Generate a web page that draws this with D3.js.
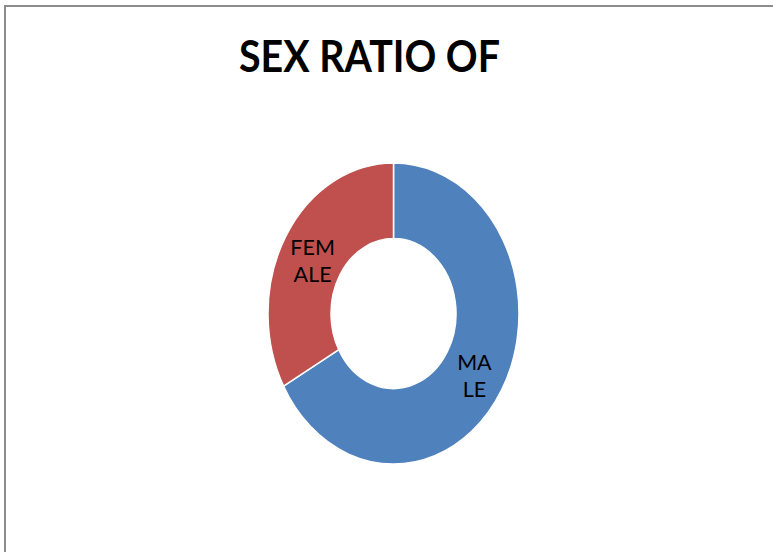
<!DOCTYPE html>
<html>
<head>
<meta charset="utf-8">
<script src="https://cdn.jsdelivr.net/npm/d3@7.9.0/dist/d3.min.js"></script>
<style>
  body { margin: 0; background: #fff; }
</style>
</head>
<body>
<div id="chart"></div>
<script>
// data
const categories = ['MALE', 'FEMALE'];
const values = [67, 33];
const labelLines = [['MA', 'LE'], ['FEM', 'ALE']];
const colors = ['#4F81BD', '#C0504D'];
const title = 'SEX RATIO OF';

const width = 773;
const height = 552;

const svg = d3.select('#chart')
    .append('svg')
    .attr('width', width)
    .attr('height', height);

// chart area border
svg.append('rect')
    .attr('x', 5)
    .attr('y', 6)
    .attr('width', width + 10)
    .attr('height', height + 10)
    .attr('fill', '#fff')
    .attr('stroke', '#8c8c8c')
    .attr('stroke-width', 2);

svg.append('text')
    .attr('x', 369.5)
    .attr('y', 72)
    .attr('text-anchor', 'middle')
    .attr('font-family', 'Lato, "Open Sans", sans-serif')
    .attr('font-weight', 'bold')
    .attr('font-size', '44px')
    .attr('textLength', 261)
    .attr('lengthAdjust', 'spacingAndGlyphs')
    .attr('fill', '#000')
    .text(title);

const cx = 393.5, cy = 313.5;
const outer = 125.5, inner = 62.5;
const stretch = 1.2; // the plot area is taller than wide

const pie = d3.pie().sort(null).value(d => d.value);
const arc = d3.arc().innerRadius(inner).outerRadius(outer);

const data = categories.map((c, i) => ({ name: c, value: values[i], lines: labelLines[i], color: colors[i] }));
const arcs = pie(data);

const donut = svg.append('g')
    .attr('transform', `translate(${cx}, ${cy}) scale(1, ${stretch})`);

donut.selectAll('path')
    .data(arcs)
    .enter()
    .append('path')
    .attr('d', arc)
    .attr('fill', d => d.data.color)
    .attr('stroke', '#fff')
    .attr('stroke-width', 1.5)
    .attr('vector-effect', 'non-scaling-stroke');

const labels = svg.append('g');

labels.selectAll('text')
    .data(arcs)
    .enter()
    .append('text')
    .attr('transform', d => {
        const [x, y] = arc.centroid(d);
        return `translate(${cx + x}, ${cy + y * stretch})`;
    })
    .attr('text-anchor', 'middle')
    .attr('font-family', 'Lato, "Open Sans", sans-serif')
    .attr('font-size', '21.5px')
    .attr('fill', '#000')
    .each(function(d) {
        const t = d3.select(this);
        d.data.lines.forEach((line, i) => {
            t.append('tspan')
                .attr('x', 0)
                .attr('y', i * 27 - 1)
                .text(line);
        });
    });
</script>
</body>
</html>
